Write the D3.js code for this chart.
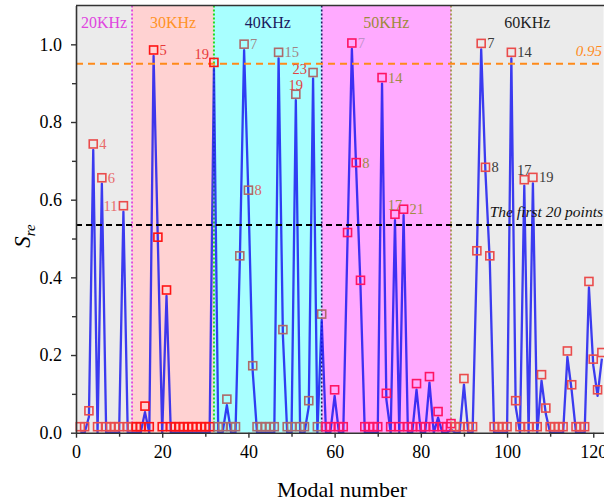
<!DOCTYPE html>
<html>
<head>
<meta charset="utf-8">
<script src="https://cdn.jsdelivr.net/npm/d3@7"></script>
<style>
  body { margin: 0; background: #fff; }
  svg { display: block; }
  text { font-family: "Liberation Serif", "Times New Roman", serif; }
</style>
</head>
<body>
<svg id="chart" width="604" height="502"></svg>
<script>
// Modal strain-energy ratio S_re per mode, grouped by excitation frequency band
const bandNames = ["20KHz", "30KHz", "40KHz", "50KHz", "60KHz"];
const bandEdges = [0, 13, 32, 57, 87, 122.4];

// modes 1-13
const sre20 = [0, 0, 0.041, 0.728, 0, 0.641, 0, 0, 0, 0, 0.569, 0, 0];
// modes 14-32
const sre30 = [0, 0, 0.053, 0, 0.970, 0.488, 0, 0.352, 0, 0, 0, 0, 0, 0, 0, 0, 0, 0, 0.938];
// modes 33-57
const sre40 = [0, 0, 0.071, 0, 0, 0.440, 0.985, 0.609, 0.157, 0, 0, 0, 0, 0, 0.964, 0.250, 0, 0,
               0.856, 0, 0, 0.067, 0.912, 0, 0.290];
// modes 58-87
const sre50 = [0, 0, 0.095, 0, 0, 0.500, 0.988, 0.680, 0.377, 0, 0, 0, 0, 0.899, 0.086, 0, 0.547,
               0, 0.560, 0, 0, 0.111, 0, 0, 0.129, 0, 0.039, 0, 0, 0.008];
// modes 88-122
const sre60 = [0, 0, 0.124, 0, 0, 0.453, 0.987, 0.668, 0.440, 0, 0, 0, 0, 0.964, 0.067, 0, 0.636,
               0, 0.642, 0, 0.134, 0.048, 0, 0, 0, 0, 0.195, 0.108, 0, 0, 0, 0.374, 0.174, 0.095, 0.191];

const xTickValues = [0, 20, 40, 60, 80, 100, 120];
const yTickValues = [0, 0.2, 0.4, 0.6, 0.8, 1.0];
const level95 = 0.95;
const levelFirst20 = 0.535;

// peak annotations: [mode, label]
const peakNotes = [
  [4, "4"], [6, "6"], [11, "11"],
  [18, "5"], [32, "19"],
  [39, "7"], [40, "8"], [47, "15"], [51, "19"], [55, "23"],
  [64, "7"], [65, "8"], [71, "14"], [74, "17"], [76, "21"],
  [94, "7"], [95, "8"], [101, "14"], [104, "17"], [106, "19"]
];

// ---- styling ----
const bandFill = ["#ebebeb", "#ffd2d2", "#a8ffff", "#ffaaff", "#ebebeb"];
const bandTitleColor = ["#e045e0", "#ff9326", "#1a1a5e", "#9c8a3a", "#1e1e1e"];
const edgeColor = ["#e030e0", "#22dd22", "#1a1a60", "#9c8a3a"];
const markerColor = ["#ea4c4c", "#ff1414", "#ad6a6a", "#ff1464", "#ea4c4c"];
const notePlace = { 11: "l", 32: "lt", 51: "t", 55: "lh", 74: "t", 104: "t" };
const noteColor = {
  4: "#e86a6a", 6: "#e86a6a", 11: "#e86a6a", 18: "#e83a3a", 32: "#e83a3a",
  39: "#a08484", 40: "#d86464", 47: "#a08484", 51: "#e04444", 55: "#e04444",
  64: "#c090c8", 65: "#a08c44", 71: "#a08c44", 74: "#a08c44", 76: "#a08c44",
  94: "#3a3a3a", 95: "#3a3a3a", 101: "#3a3a3a", 104: "#3a3a3a", 106: "#3a3a3a"
};
const markerLift = 6;   // markers sit just above the line vertex
const markerSize = 8;

const sre = [].concat(sre20, sre30, sre40, sre50, sre60);
const points = sre.map((v, i) => ({ mode: i + 1, v }));
const bandOf = m => {
  for (let b = 0; b < bandNames.length; b++) if (m <= bandEdges[b + 1]) return b;
  return bandNames.length - 1;
};

const svg = d3.select("#chart");
const W = 604, H = 502;
const plotLeft = 76, plotRight = 603.6, plotTop = 5.5, plotBottom = 432.7;

const x = d3.scaleLinear().domain([0, 122.4]).range([plotLeft, plotRight]);
const y = d3.scaleLinear().domain([0, 1.1]).range([plotBottom, plotTop]);

// frequency band backgrounds
svg.append("g").selectAll("rect")
  .data(bandNames)
  .join("rect")
  .attr("x", (d, i) => x(bandEdges[i]))
  .attr("y", plotTop)
  .attr("width", (d, i) => x(bandEdges[i + 1]) - x(bandEdges[i]))
  .attr("height", plotBottom - plotTop)
  .attr("fill", (d, i) => bandFill[i]);

// band boundaries
svg.append("g").selectAll("line")
  .data(bandEdges.slice(1, -1))
  .join("line")
  .attr("x1", d => x(d)).attr("x2", d => x(d))
  .attr("y1", plotTop).attr("y2", plotBottom)
  .attr("stroke", (d, i) => edgeColor[i])
  .attr("stroke-width", (d, i) => i === 1 ? 2 : 1.6)
  .attr("stroke-dasharray", "2,2");

// band titles
svg.append("g").selectAll("text")
  .data(bandNames)
  .join("text")
  .attr("x", (d, i) => (x(bandEdges[i]) + x(bandEdges[i + 1])) / 2)
  .attr("y", 28)
  .attr("text-anchor", "middle")
  .attr("font-size", 16)
  .attr("fill", (d, i) => bandTitleColor[i])
  .text(d => d);

// S_re curve
const line = d3.line().x(d => x(d.mode)).y(d => y(d.v));
svg.append("path")
  .datum(points)
  .attr("d", line)
  .attr("fill", "none")
  .attr("stroke", "#1414f0")
  .attr("stroke-opacity", 0.82)
  .attr("stroke-width", 2.3)
  .attr("stroke-linejoin", "round");

// reference levels
svg.append("line")
  .attr("x1", plotLeft).attr("x2", plotRight)
  .attr("y1", y(levelFirst20)).attr("y2", y(levelFirst20))
  .attr("stroke", "#000").attr("stroke-width", 2)
  .attr("stroke-dasharray", "6,4");
svg.append("line")
  .attr("x1", plotLeft).attr("x2", plotRight)
  .attr("y1", y(level95)).attr("y2", y(level95))
  .attr("stroke", "#ff8a1a").attr("stroke-width", 2)
  .attr("stroke-dasharray", "7,5");

// open square markers
svg.append("g").selectAll("rect")
  .data(points)
  .join("rect")
  .attr("x", d => x(d.mode) - markerSize / 2)
  .attr("y", d => y(d.v) - markerLift - markerSize / 2)
  .attr("width", markerSize)
  .attr("height", markerSize)
  .attr("fill", "none")
  .attr("stroke", d => markerColor[bandOf(d.mode)])
  .attr("stroke-width", 1.6);

// peak labels
svg.append("g").selectAll("text")
  .data(peakNotes)
  .join("text")
  .each(function ([m, label]) {
    const sx = x(m), sy = y(sre[m - 1]) - markerLift;
    const place = notePlace[m] || "r";
    const t = d3.select(this);
    if (place === "r") t.attr("x", sx + 6).attr("y", sy + 5).attr("text-anchor", "start");
    else if (place === "l") t.attr("x", sx - 6).attr("y", sy + 5).attr("text-anchor", "end");
    else if (place === "lh") t.attr("x", sx - 6).attr("y", sy + 1).attr("text-anchor", "end");
    else if (place === "lt") t.attr("x", sx - 5).attr("y", sy - 3).attr("text-anchor", "end");
    else t.attr("x", sx).attr("y", sy - 4.5).attr("text-anchor", "middle");
    t.attr("font-size", 14.5).attr("fill", noteColor[m]).text(label);
  });

// level captions
svg.append("text")
  .attr("x", 602).attr("y", y(level95) - 8)
  .attr("text-anchor", "end")
  .attr("font-size", 15).attr("font-style", "italic")
  .attr("fill", "#ff8a1a")
  .text("0.95");
svg.append("text")
  .attr("x", 603).attr("y", y(levelFirst20) - 8)
  .attr("text-anchor", "end")
  .attr("font-size", 15.5).attr("font-style", "italic")
  .attr("fill", "#111")
  .text("The first 20 points");

// axes
const axisColor = "#333";
svg.append("g").attr("transform", `translate(0,${plotBottom})`)
  .call(d3.axisBottom(x).tickValues(xTickValues).tickSize(5).tickSizeOuter(0).tickPadding(8)
    .tickFormat(d3.format("d")));
svg.append("g").attr("transform", `translate(0,${plotBottom})`)
  .call(d3.axisBottom(x).tickValues(xTickValues.slice(0, -1).map(v => v + 10)).tickSize(4)
    .tickSizeOuter(0).tickFormat(""))
  .select(".domain").remove();
svg.append("g").attr("transform", `translate(${plotLeft},0)`)
  .call(d3.axisLeft(y).tickValues(yTickValues).tickSize(5).tickSizeOuter(0).tickPadding(9)
    .tickFormat(d3.format(".1f")));
svg.append("g").attr("transform", `translate(${plotLeft},0)`)
  .call(d3.axisLeft(y).tickValues(yTickValues.slice(0, -1).map(v => v + 0.1)).tickSize(4)
    .tickSizeOuter(0).tickFormat(""))
  .select(".domain").remove();

svg.selectAll(".domain").attr("stroke", axisColor).attr("stroke-width", 1.6);
svg.selectAll(".tick line").attr("stroke", axisColor).attr("stroke-width", 1.4);
svg.selectAll(".tick text")
  .attr("font-family", "'Liberation Serif', 'Times New Roman', serif")
  .attr("font-size", 18).attr("fill", "#000");

// top frame
svg.append("line")
  .attr("x1", plotLeft).attr("x2", W)
  .attr("y1", plotTop).attr("y2", plotTop)
  .attr("stroke", axisColor).attr("stroke-width", 1.6);

// axis titles
svg.append("text")
  .attr("x", (plotLeft + W) / 2 + 2).attr("y", 497)
  .attr("text-anchor", "middle")
  .attr("font-size", 22)
  .text("Modal number");

const yTitle = svg.append("text")
  .attr("transform", "translate(30,236) rotate(-90)")
  .attr("text-anchor", "middle")
  .attr("font-size", 23)
  .attr("font-style", "italic");
yTitle.append("tspan").text("S");
yTitle.append("tspan").attr("font-size", 15).attr("dy", 5).text("re");
</script>
</body>
</html>
